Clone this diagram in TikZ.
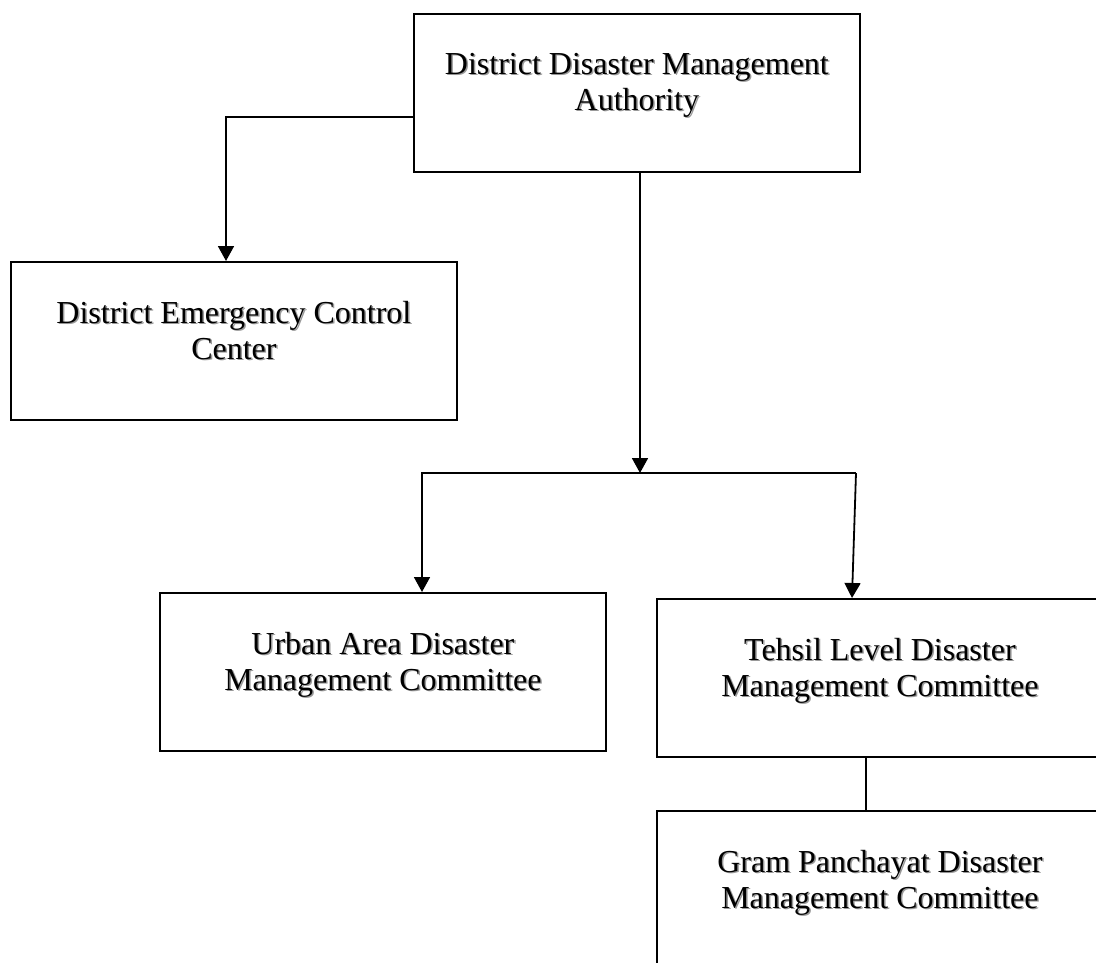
\documentclass[tikz,border=0pt]{standalone}
\usepackage{fontspec}
\setmainfont{Liberation Serif}
\usetikzlibrary{arrows.meta,calc}
\newcommand\shd[1]{\makebox[0pt][l]{\hspace{1.5pt}\raisebox{-1.5pt}{\textcolor{black!40}{#1}}}#1}
\tikzset{
  box/.style={draw, line width=1.8pt, minimum width=446pt, minimum height=158pt, inner sep=0pt, anchor=north west},
  lbl/.style={anchor=north, inner sep=0pt, align=center, font=\fontsize{32}{36}\selectfont},
  conn/.style={line width=1.8pt},
  arr/.style={conn, -{Triangle[width=16pt,length=15pt]}},
}
\begin{document}
\begin{tikzpicture}[x=1pt,y=-1pt]
\useasboundingbox (0,0) rectangle (1096,963);
\clip (0,0) rectangle (1096,963);
\node[box] (ddma) at (413,13) {};
\node[box] (decc) at (10,261) {};
\node[box] (urban) at (159,592) {};
\node[box] (tehsil) at (656,598) {};
\node[box] (gram) at (656,810) {};
\node[lbl] (ddmaT) at ($(ddma.north)+(0,40)$) {\shd{District Disaster Management}\\\shd{Authority}};
\node[lbl] (deccT) at ($(decc.north)+(0,40)$) {\shd{District Emergency Control}\\\shd{Center}};
\node[lbl] (urbanT) at ($(urban.north)+(0,40)$) {\shd{Urban Area Disaster}\\\shd{Management Committee}};
\node[lbl] (tehsilT) at ($(tehsil.north)+(0,40)$) {\shd{Tehsil Level Disaster}\\\shd{Management Committee}};
\node[lbl] (gramT) at ($(gram.north)+(0,40)$) {\shd{Gram Panchayat Disaster}\\\shd{Management Committee}};
\coordinate (k) at (226,117);
\coordinate (j) at (640,473);
\coordinate (bl) at (422,473);
\coordinate (br) at (856,473);
\coordinate (tr) at (852,598);
\coordinate (g) at (866,780);
\draw[arr] (ddma.west |- k) -| (decc.north -| k);
\draw[arr] (ddma.south -| j) -- (j);
\draw[arr] (br) -- (bl) -- (urban.north -| bl);
\draw[arr] (br) -- (tr);
\draw[conn, line width=1.4pt] (tehsil.south -| g) -- (gram.north -| g);
\end{tikzpicture}
\end{document}
